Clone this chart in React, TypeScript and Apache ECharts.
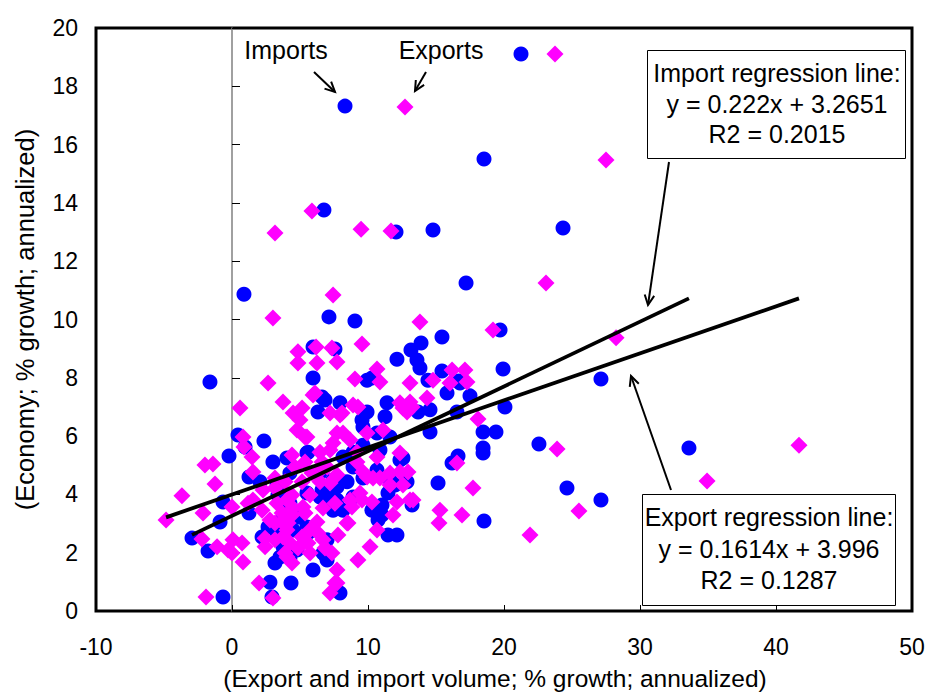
import { useEffect, useRef } from "react";
import * as echarts from "echarts";

// Imports: [volume growth %, economy growth %]
const importData: [number, number][] = [
  [8.31, 17.32], [18.53, 15.51], [24.34, 13.14], [14.78, 13.07], [12.06, 13.0], [6.76, 13.76],
  [17.21, 11.25], [0.88, 10.87], [7.13, 10.09], [9.04, 9.95], [19.71, 9.64], [15.44, 9.4],
  [-1.62, 7.86], [27.13, 7.96], [19.93, 8.3], [33.6, 5.59], [24.63, 4.22], [27.13, 3.81],
  [22.57, 5.73], [20.07, 7.0], [18.46, 6.14], [19.41, 6.14], [18.46, 5.59], [18.46, 5.42],
  [16.62, 5.32], [16.18, 5.08], [15.15, 4.39], [18.53, 3.09], [5.96, 7.99], [12.13, 8.64],
  [13.16, 8.95], [13.9, 9.19], [13.6, 8.61], [13.82, 8.34], [14.41, 7.92], [15.44, 8.23],
  [15.81, 7.48], [17.5, 7.38], [16.69, 7.89], [16.54, 6.83], [14.56, 6.14], [14.56, 6.9],
  [13.68, 6.83], [11.4, 7.14], [11.25, 6.66], [9.93, 7.92], [9.93, 6.83], [9.63, 6.31],
  [7.57, 8.99], [5.96, 9.06], [7.94, 7.14], [6.84, 7.24], [6.32, 6.83], [9.56, 6.55],
  [10.66, 6.11], [11.62, 5.97], [10.88, 5.52], [12.35, 5.18], [8.16, 5.28], [5.51, 5.42],
  [6.47, 4.73], [7.43, 4.49], [8.9, 4.94], [10.66, 4.84], [11.62, 4.49], [11.47, 4.05],
  [11.03, 3.64], [10.29, 3.46], [10.74, 3.12], [11.47, 2.61], [12.13, 2.61], [13.24, 3.64],
  [7.21, 3.88], [7.43, 3.46], [5.96, 1.41], [7.94, 0.62], [6.69, 1.99], [6.99, 2.44],
  [0.44, 6.04], [2.35, 5.83], [-0.22, 5.32], [0.96, 5.63], [3.01, 5.11], [4.04, 5.25],
  [5.59, 5.45], [1.25, 4.6], [2.06, 4.43], [3.31, 4.39], [4.26, 4.73], [5.51, 4.05],
  [6.47, 3.91], [7.72, 3.81], [8.16, 3.46], [-0.66, 3.74], [-0.88, 3.05], [1.25, 3.36],
  [-2.94, 2.5], [-1.76, 2.06], [2.21, 2.54], [3.31, 2.68], [4.49, 2.78], [5.59, 2.68],
  [3.75, 2.2], [4.78, 2.09], [3.16, 1.65], [4.26, 1.82], [6.99, 1.75], [2.79, 0.99],
  [4.34, 0.96], [2.94, 0.48], [-0.66, 0.48], [3.53, 4.15], [3.53, 1.85], [2.65, 2.88],
  [3.75, 3.22], [5.0, 3.22], [5.51, 2.88], [3.38, 3.98], [4.26, 3.7], [9.63, 5.69],
  [8.9, 5.45], [12.57, 5.25], [12.87, 4.43], [11.99, 4.32], [9.63, 4.56], [8.46, 4.43],
  [7.72, 4.25], [6.62, 4.15], [6.62, 7.34], [10.29, 7.99], [11.03, 3.29], [6.84, 1.92],
  [7.21, 3.7], [8.9, 3.91], [16.76, 7.82],
];

// Exports: [volume growth %, economy growth %]
const exportData: [number, number][] = [
  [12.72, 17.29], [27.5, 15.47], [23.09, 11.25], [5.88, 13.72], [3.16, 12.97], [9.49, 13.1],
  [11.69, 13.04], [7.43, 10.84], [3.01, 10.05], [13.82, 9.91], [19.19, 9.64], [28.24, 9.37],
  [23.9, 5.56], [41.69, 5.69], [34.93, 4.46], [25.51, 3.43], [21.91, 2.61], [18.09, 6.59],
  [17.72, 4.22], [15.29, 3.46], [16.91, 3.29], [15.22, 3.02], [16.54, 5.08], [16.18, 8.27],
  [17.13, 8.27], [16.03, 7.82], [17.28, 7.86], [14.78, 7.92], [14.34, 7.31], [13.09, 7.82],
  [12.35, 7.14], [13.09, 7.17], [12.87, 6.83], [9.56, 9.16], [6.18, 9.06], [7.35, 9.02],
  [4.85, 8.89], [4.85, 8.51], [6.25, 8.51], [7.72, 8.54], [10.66, 8.3], [9.04, 7.96],
  [10.88, 7.86], [8.9, 7.07], [7.94, 6.72], [7.21, 6.79], [5.96, 7.41], [11.1, 6.21],
  [9.93, 6.11], [8.16, 6.11], [7.43, 5.76], [6.47, 5.45], [5.51, 5.97], [12.35, 5.42],
  [10.66, 5.28], [9.19, 5.11], [9.93, 4.6], [12.35, 4.77], [12.94, 4.77], [10.88, 4.56],
  [13.31, 3.81], [11.84, 3.29], [10.66, 2.78], [10.15, 2.2], [9.26, 1.75], [7.79, 2.61],
  [7.72, 1.41], [7.72, 0.96], [7.21, 0.62], [8.53, 3.02], [8.68, 3.81], [9.41, 4.05],
  [2.65, 7.82], [0.59, 6.96], [3.75, 7.17], [6.1, 7.48], [4.49, 6.79], [5.15, 6.96],
  [5.0, 6.55], [4.78, 6.21], [5.37, 5.97], [8.09, 6.79], [7.72, 6.11], [0.81, 5.97],
  [0.88, 5.63], [1.47, 5.28], [1.54, 4.77], [-1.99, 5.01], [-1.4, 5.04], [-1.25, 4.36],
  [-3.68, 3.95], [-4.85, 3.12], [-2.13, 3.36], [-2.21, 2.47], [-1.1, 2.2], [0, 3.57],
  [0.07, 2.44], [0.74, 2.33], [0, 1.99], [0.81, 1.68], [1.18, 3.7], [1.99, 0.96],
  [3.01, 0.45], [-1.91, 0.48], [4.04, 3.81], [4.41, 3.29], [3.31, 3.7], [2.79, 3.12],
  [3.68, 3.05], [2.43, 2.5], [3.16, 2.44], [4.04, 2.78], [4.26, 2.33], [3.9, 1.99],
  [4.85, 2.16], [5.59, 2.33], [5.74, 2.78], [6.25, 3.05], [6.84, 2.16], [5.22, 3.57],
  [5.74, 3.98], [6.47, 4.43], [5.88, 4.73], [6.69, 4.91], [7.21, 4.39], [7.35, 1.99],
  [3.16, 4.56], [3.9, 4.43], [3.16, 4.22], [5.15, 4.43], [4.41, 5.35], [5.37, 5.11],
  [4.63, 4.94], [6.62, 5.11], [-0.29, 2.09], [2.43, 2.2], [3.75, 2.54], [4.04, 1.85],
  [4.41, 1.65], [5.74, 1.99], [5.15, 2.54], [1.54, 3.81], [2.21, 3.46], [3.16, 3.02],
  [3.68, 3.36], [4.12, 3.02], [4.49, 3.53], [5.37, 3.36], [6.32, 2.68], [6.69, 2.44],
  [2.28, 4.15], [4.41, 3.98], [9.26, 7.0], [8.68, 5.87], [9.19, 5.45], [7.21, 5.52],
  [6.99, 4.94], [7.72, 4.67], [9.63, 4.77], [10.37, 4.56], [11.62, 4.73], [12.57, 4.32],
  [11.62, 4.32], [12.57, 6.96], [13.24, 7.0], [6.69, 3.53], [7.57, 3.7], [8.46, 3.02],
  [7.57, 0.96], [8.82, 3.57], [9.56, 3.81], [10.29, 3.74], [12.13, 3.74], [13.09, 3.81],
];

const importFit = { slope: 0.222, intercept: 3.2651, r2: "0.2015", eq: "y = 0.222x + 3.2651" };
const exportFit = { slope: 0.1614, intercept: 3.996, r2: "0.1287", eq: "y = 0.1614x + 3.996" };

const xRange = { min: -10, max: 50, interval: 10 };
const yRange = { min: 0, max: 20, interval: 2 };

const xTitle = "(Export and import volume; % growth; annualized)";
const yTitle = "(Economy; % growth; annualized)";

const FONT = "'Liberation Sans', Arial, Helvetica, sans-serif";
const BLUE = "#0000FF";
const MAGENTA = "#FF00FF";

function fitLine(data: [number, number][], fit: { slope: number; intercept: number }) {
  const xs = data.map((d) => d[0]);
  const x0 = Math.min(...xs);
  const x1 = Math.max(...xs);
  return [
    [x0, fit.slope * x0 + fit.intercept],
    [x1, fit.slope * x1 + fit.intercept],
  ];
}

function arrow(x1: number, y1: number, x2: number, y2: number, lw = 2) {
  const ang = Math.atan2(y2 - y1, x2 - x1);
  const len = 11;
  const spread = 0.45;
  const a1 = ang + Math.PI - spread;
  const a2 = ang + Math.PI + spread;
  return [
    {
      type: "line",
      z: 100,
      shape: { x1, y1, x2, y2 },
      style: { stroke: "#000", lineWidth: lw },
    },
    {
      type: "polyline",
      z: 100,
      shape: {
        points: [
          [x2 + len * Math.cos(a1), y2 + len * Math.sin(a1)],
          [x2, y2],
          [x2 + len * Math.cos(a2), y2 + len * Math.sin(a2)],
        ],
      },
      style: { stroke: "#000", lineWidth: lw, fill: null },
    },
  ];
}

function txt(text: string, x: number, y: number, size = 25) {
  return {
    type: "text",
    z: 101,
    x,
    y,
    style: {
      text,
      fill: "#000",
      font: `${size}px ${FONT}`,
      align: "center",
      verticalAlign: "middle",
    },
  };
}

export default function App() {
  const ref = useRef<HTMLDivElement>(null);

  useEffect(() => {
    if (!ref.current) return;
    const chart = echarts.init(ref.current, null, { renderer: "svg" });

    const option: any = {
      animation: false,
      backgroundColor: "#fff",
      textStyle: { fontFamily: FONT },
      grid: {
        left: 96,
        right: 15,
        top: 28,
        bottom: 84,
        show: true,
        borderColor: "#000",
        borderWidth: 3,
        backgroundColor: "transparent",
        outerBoundsMode: "none",
        containLabel: false,
      },
      xAxis: {
        type: "value",
        min: xRange.min,
        max: xRange.max,
        interval: xRange.interval,
        axisLine: { show: false },
        axisTick: { show: true, inside: true, length: 6, lineStyle: { color: "#000", width: 1 } },
        axisLabel: { color: "#000", fontSize: 23, margin: 24, fontFamily: FONT },
        splitLine: { show: false },
        name: xTitle,
        nameLocation: "middle",
        nameGap: 55,
        nameTextStyle: { color: "#000", fontSize: 24.5, fontFamily: FONT, padding: [0, 18, 0, 0] },
      },
      yAxis: [
        {
          type: "value",
          min: yRange.min,
          max: yRange.max,
          interval: yRange.interval,
          axisLine: { show: false },
          axisTick: { show: false },
          axisLabel: { color: "#000", fontSize: 23, margin: 18, fontFamily: FONT },
          splitLine: { show: false },
          name: yTitle,
          nameLocation: "middle",
          nameGap: 58,
          nameTextStyle: { color: "#000", fontSize: 25.5, fontFamily: FONT },
        },
        {
          type: "value",
          min: yRange.min,
          max: yRange.max,
          interval: yRange.interval,
          position: "left",
          axisLine: { show: true, onZero: true, onZeroAxisIndex: 0, lineStyle: { color: "#808080", width: 1.5 } },
          axisTick: { show: true, inside: true, length: 8, lineStyle: { color: "#000", width: 1 } },
          axisLabel: { show: false },
          splitLine: { show: false },
        },
      ],
      series: [
        {
          name: "Imports",
          type: "scatter",
          data: importData,
          symbol: "circle",
          symbolSize: 15,
          itemStyle: { color: BLUE, opacity: 1 },
          z: 3,
        },
        {
          name: "Exports",
          type: "scatter",
          data: exportData,
          symbol: "diamond",
          symbolSize: 17,
          itemStyle: { color: MAGENTA, opacity: 1 },
          z: 4,
        },
        {
          name: "Import regression",
          type: "line",
          data: fitLine(importData, importFit),
          symbol: "none",
          lineStyle: { color: "#000", width: 3.8 },
          z: 5,
        },
        {
          name: "Export regression",
          type: "line",
          data: fitLine(exportData, exportFit),
          symbol: "none",
          lineStyle: { color: "#000", width: 3.8 },
          z: 5,
        },
      ],
      graphic: [
        txt("Imports", 286, 50),
        txt("Exports", 441, 50),
        ...arrow(314, 72, 335, 92),
        ...arrow(426, 72, 415, 91),
        { type: "circle", z: 100, shape: { cx: 521, cy: 54, r: 7.5 }, style: { fill: BLUE } },
        {
          type: "polygon",
          z: 100,
          shape: { points: [[555, 45.5], [563.5, 54], [555, 62.5], [546.5, 54]] },
          style: { fill: MAGENTA },
        },
        {
          type: "rect",
          z: 99,
          shape: { x: 647.5, y: 50.5, width: 258, height: 108 },
          style: { fill: "#fff", stroke: "#000", lineWidth: 1 },
        },
        txt("Import regression line:", 777, 73),
        txt(importFit.eq, 777, 104),
        txt(`R2 = ${importFit.r2}`, 777, 134),
        ...arrow(669, 162, 648, 305),
        {
          type: "rect",
          z: 99,
          shape: { x: 642.5, y: 494.5, width: 253, height: 111 },
          style: { fill: "#fff", stroke: "#000", lineWidth: 1 },
        },
        txt("Export regression line:", 769, 517),
        txt(exportFit.eq, 769, 549),
        txt(`R2 = ${exportFit.r2}`, 769, 580),
        ...arrow(671, 490, 631, 376),
      ],
    };

    chart.setOption(option);
    return () => chart.dispose();
  }, []);

  return (
    <div
      ref={ref}
      style={{ position: "fixed", left: 0, top: 0, width: 927, height: 695, background: "#fff" }}
    />
  );
}
